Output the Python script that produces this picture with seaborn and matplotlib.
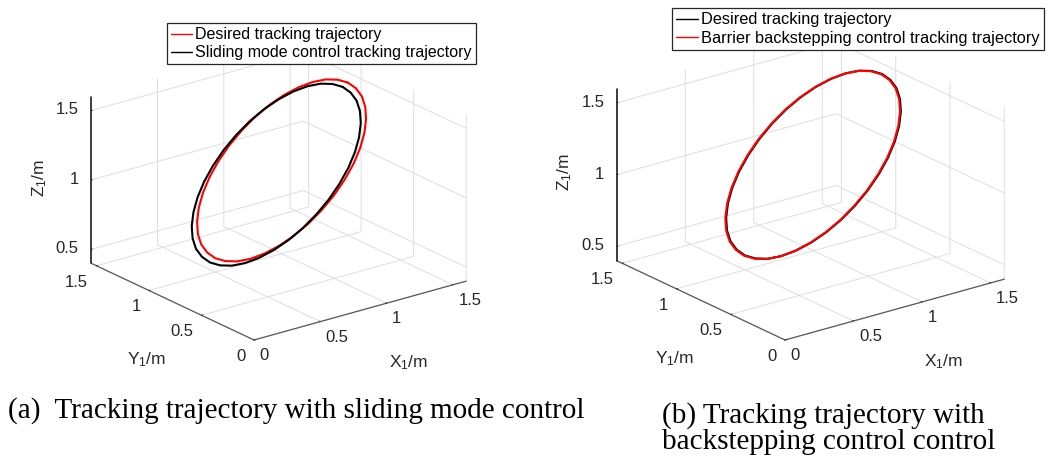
import numpy as np
import matplotlib
matplotlib.use("Agg")
import matplotlib.pyplot as plt
import seaborn as sns

# ---------------- data ----------------
# desired trajectory (common to both panels)
x_des = [1.500, 1.492, 1.470, 1.433, 1.383, 1.321, 1.250, 1.171, 1.087, 1.000, 0.913, 0.829,
         0.750, 0.679, 0.617, 0.567, 0.530, 0.508, 0.500, 0.508, 0.530, 0.567, 0.617, 0.679,
         0.750, 0.829, 0.913, 1.000, 1.087, 1.171, 1.250, 1.321, 1.383, 1.433, 1.470, 1.492, 1.500]
y_des = [1.000, 1.087, 1.171, 1.250, 1.321, 1.383, 1.433, 1.470, 1.492, 1.500, 1.492, 1.470,
         1.433, 1.383, 1.321, 1.250, 1.171, 1.087, 1.000, 0.913, 0.829, 0.750, 0.679, 0.617,
         0.567, 0.530, 0.508, 0.500, 0.508, 0.530, 0.567, 0.617, 0.679, 0.750, 0.829, 0.913, 1.000]
z_des = [1.500, 1.492, 1.470, 1.433, 1.383, 1.321, 1.250, 1.171, 1.087, 1.000, 0.913, 0.829,
         0.750, 0.679, 0.617, 0.567, 0.530, 0.508, 0.500, 0.508, 0.530, 0.567, 0.617, 0.679,
         0.750, 0.829, 0.913, 1.000, 1.087, 1.171, 1.250, 1.321, 1.383, 1.433, 1.470, 1.492, 1.500]

# sliding mode control tracking trajectory (panel a)
x_smc = [1.460, 1.452, 1.430, 1.393, 1.343, 1.281, 1.210, 1.131, 1.047, 0.960, 0.873, 0.789,
         0.710, 0.639, 0.577, 0.527, 0.490, 0.468, 0.460, 0.468, 0.490, 0.527, 0.577, 0.639,
         0.710, 0.789, 0.873, 0.960, 1.047, 1.131, 1.210, 1.281, 1.343, 1.393, 1.430, 1.452, 1.460]
y_smc = [1.000, 1.087, 1.171, 1.250, 1.321, 1.383, 1.433, 1.470, 1.492, 1.500, 1.492, 1.470,
         1.433, 1.383, 1.321, 1.250, 1.171, 1.087, 1.000, 0.913, 0.829, 0.750, 0.679, 0.617,
         0.567, 0.530, 0.508, 0.500, 0.508, 0.530, 0.567, 0.617, 0.679, 0.750, 0.829, 0.913, 1.000]
z_smc = [1.480, 1.472, 1.450, 1.413, 1.363, 1.301, 1.230, 1.151, 1.067, 0.980, 0.893, 0.809,
         0.730, 0.659, 0.597, 0.547, 0.510, 0.488, 0.480, 0.488, 0.510, 0.547, 0.597, 0.659,
         0.730, 0.809, 0.893, 0.980, 1.067, 1.151, 1.230, 1.301, 1.363, 1.413, 1.450, 1.472, 1.480]

# barrier backstepping control tracking trajectory (panel b)
x_bbc = [1.494, 1.486, 1.464, 1.427, 1.377, 1.315, 1.244, 1.165, 1.081, 0.994, 0.907, 0.823,
         0.744, 0.673, 0.611, 0.561, 0.524, 0.502, 0.494, 0.502, 0.524, 0.561, 0.611, 0.673,
         0.744, 0.823, 0.907, 0.994, 1.081, 1.165, 1.244, 1.315, 1.377, 1.427, 1.464, 1.486, 1.494]
y_bbc = [1.000, 1.087, 1.171, 1.250, 1.321, 1.383, 1.433, 1.470, 1.492, 1.500, 1.492, 1.470,
         1.433, 1.383, 1.321, 1.250, 1.171, 1.087, 1.000, 0.913, 0.829, 0.750, 0.679, 0.617,
         0.567, 0.530, 0.508, 0.500, 0.508, 0.530, 0.567, 0.617, 0.679, 0.750, 0.829, 0.913, 1.000]
z_bbc = [1.500, 1.492, 1.470, 1.433, 1.383, 1.321, 1.250, 1.171, 1.087, 1.000, 0.913, 0.829,
         0.750, 0.679, 0.617, 0.567, 0.530, 0.508, 0.500, 0.508, 0.530, 0.567, 0.617, 0.679,
         0.750, 0.829, 0.913, 1.000, 1.087, 1.171, 1.250, 1.321, 1.383, 1.433, 1.470, 1.492, 1.500]

x_ticks = [0, 0.5, 1, 1.5]
y_ticks = [0, 0.5, 1, 1.5]
z_ticks = [0.5, 1, 1.5]
x_ticklabels = ["0", "0.5", "1", "1.5"]
y_ticklabels = ["0", "0.5", "1", "1.5"]
z_ticklabels = ["0.5", "1", "1.5"]
x_lim = (0, 1.6)
y_lim = (0, 1.55)
z_lim = (0.4, 1.6)

labels_a = ["Desired tracking trajectory", "Sliding mode control tracking trajectory"]
labels_b = ["Desired tracking trajectory", "Barrier backstepping control tracking trajectory"]
caption_a = "(a)  Tracking trajectory with sliding mode control"
caption_b1 = "(b) Tracking trajectory with"
caption_b2 = "backstepping control control"

# ---------------- style ----------------
sns.set_theme(style="white")
plt.rcParams["font.family"] = ["Liberation Sans", "DejaVu Sans"]
plt.rcParams["mathtext.fontset"] = "custom"
plt.rcParams["mathtext.rm"] = "Liberation Sans"
plt.rcParams["mathtext.it"] = "Liberation Sans"
plt.rcParams["mathtext.default"] = "regular"

W_PX, H_PX = 1048, 458
fig = plt.figure(figsize=(W_PX / 100, H_PX / 100), dpi=100)
fig.patch.set_facecolor("white")

TXT = (0.15, 0.15, 0.15)


def setup(ax):
    ax.set_proj_type("ortho")
    ax.view_init(elev=21.2, azim=-127.5)
    ax.set_box_aspect((1, 1, 0.668))
    try:
        ax.set_xlim(*x_lim, view_margin=0)
        ax.set_ylim(*y_lim, view_margin=0)
        ax.set_zlim(*z_lim, view_margin=0)
    except TypeError:
        ax.set_xlim(*x_lim)
        ax.set_ylim(*y_lim)
        ax.set_zlim(*z_lim)
    ax.set_xticks(x_ticks)
    ax.set_yticks(y_ticks)
    ax.set_zticks(z_ticks)
    ax.set_xticklabels(x_ticklabels, ha="left")
    ax.set_yticklabels(y_ticklabels, ha="right")
    ax.set_zticklabels(z_ticklabels, ha="right", va="center")
    ax.grid(True)
    for axis in (ax.xaxis, ax.yaxis, ax.zaxis):
        axis.set_pane_color((1, 1, 1, 0))
        axis.pane.set_edgecolor((1, 1, 1, 0))
        axis._axinfo["grid"]["color"] = (0.87, 0.87, 0.87, 1)
        axis._axinfo["grid"]["linewidth"] = 0.7
        axis._axinfo["tick"]["color"] = (0.45, 0.45, 0.45)
        axis._axinfo["tick"]["linewidth"] = {True: 0.6, False: 0.5}
        axis._axinfo["tick"]["outward_factor"] = 0.08
        axis._axinfo["tick"]["inward_factor"] = 0.0
    ax.xaxis.line.set_color((0.35, 0.35, 0.35))
    ax.yaxis.line.set_color((0.35, 0.35, 0.35))
    ax.zaxis.line.set_color((0.05, 0.05, 0.05))
    ax.xaxis.line.set_linewidth(0.9)
    ax.yaxis.line.set_linewidth(0.9)
    ax.zaxis.line.set_linewidth(1.1)
    ax.tick_params(labelsize=12, colors=TXT)
    ax.tick_params(axis="x", pad=-3)
    ax.tick_params(axis="y", pad=-2)
    ax.tick_params(axis="z", pad=-3)
    for axis in (ax.xaxis, ax.yaxis, ax.zaxis):
        axis.set_rotate_label(False)
    ax.xaxis._axinfo["label"]["ha"] = "left"
    ax.xaxis._axinfo["label"]["va"] = "top"
    ax.yaxis._axinfo["label"]["ha"] = "left"
    ax.yaxis._axinfo["label"]["va"] = "top"
    ax.set_xlabel("X$_1$/m", fontsize=12.5, color=TXT, labelpad=6, rotation=0)
    ax.set_ylabel("Y$_1$/m", fontsize=12.5, color=TXT, labelpad=12, rotation=0)
    ax.set_zlabel("Z$_1$/m", fontsize=12.5, color=TXT, labelpad=0, rotation=90)
    ax.patch.set_alpha(0)


def disp(ax, p):
    M = ax.get_proj()
    v = M @ np.array([p[0], p[1], p[2], 1.0])
    return ax.transData.transform((v[0] / v[3], v[1] / v[3]))


def calibrate(ax, t_front, t_left, t_right):
    for _ in range(2):
        fig.canvas.draw()
        f = disp(ax, (x_lim[0], y_lim[0], z_lim[0]))
        l = disp(ax, (x_lim[0], y_lim[1], z_lim[0]))
        r = disp(ax, (x_lim[1], y_lim[0], z_lim[0]))
        k = (t_right[0] - t_left[0]) / (r[0] - l[0])
        pos = ax.get_position(original=True)
        cx = (pos.x0 + pos.width / 2) * W_PX
        cy = (pos.y0 + pos.height / 2) * H_PX
        nf = (cx + k * (f[0] - cx), cy + k * (f[1] - cy))
        tf = (t_front[0], H_PX - t_front[1])
        dx, dy = tf[0] - nf[0], tf[1] - nf[1]
        nw, nh = pos.width * k, pos.height * k
        ncx, ncy = (cx + dx) / W_PX, (cy + dy) / H_PX
        ax.set_position([ncx - nw / 2, ncy - nh / 2, nw, nh])


# ---------------- panel (a) ----------------
ax1 = fig.add_axes([0.0, 0.1, 0.5, 0.85], projection="3d", computed_zorder=False)
setup(ax1)
la, = ax1.plot(x_des, y_des, z_des, color="red", lw=1.5)
lb, = ax1.plot(x_smc, y_smc, z_smc, color="black", lw=1.5)

# ---------------- panel (b) ----------------
ax2 = fig.add_axes([0.5, 0.1, 0.5, 0.85], projection="3d", computed_zorder=False)
setup(ax2)
lc, = ax2.plot(x_des, y_des, z_des, color="black", lw=1.5)
ld, = ax2.plot(x_bbc, y_bbc, z_bbc, color="red", lw=1.5)

calibrate(ax1, (254, 340), (90.7, 264), (465.7, 281.7))
calibrate(ax2, (785, 340), (615.7, 261), (1003.3, 279.3))

leg_kw = dict(loc="upper left", bbox_transform=fig.transFigure,
              frameon=True, fancybox=False, framealpha=1, edgecolor=TXT,
              handlelength=1.35, handletextpad=0.2, borderpad=0.25,
              labelspacing=0.2, borderaxespad=0)
lg1 = ax1.legend([la, lb], labels_a, bbox_to_anchor=(166.7 / W_PX, 1 - 23.3 / H_PX),
                 fontsize=11.5, **leg_kw)
lg2 = ax2.legend([lc, ld], labels_b, bbox_to_anchor=(671.7 / W_PX, 1 - 8.3 / H_PX),
                 fontsize=11.8, **leg_kw)
for lg in (lg1, lg2):
    lg.get_frame().set_linewidth(0.9)
    for t in lg.get_texts():
        t.set_color("black")
    for h in lg.get_lines():
        h.set_linewidth(1.0)

serif = ["Liberation Serif", "DejaVu Serif"]
fig.text(8 / W_PX, 1 - 418 / H_PX, caption_a, family=serif, fontsize=21,
         ha="left", va="baseline", color="black")
fig.text(662 / W_PX, 1 - 423 / H_PX, caption_b1, family=serif, fontsize=21,
         ha="left", va="baseline", color="black")
fig.text(662 / W_PX, 1 - 449 / H_PX, caption_b2, family=serif, fontsize=21,
         ha="left", va="baseline", color="black")

fig.savefig("out.png", dpi=100, facecolor="white")
